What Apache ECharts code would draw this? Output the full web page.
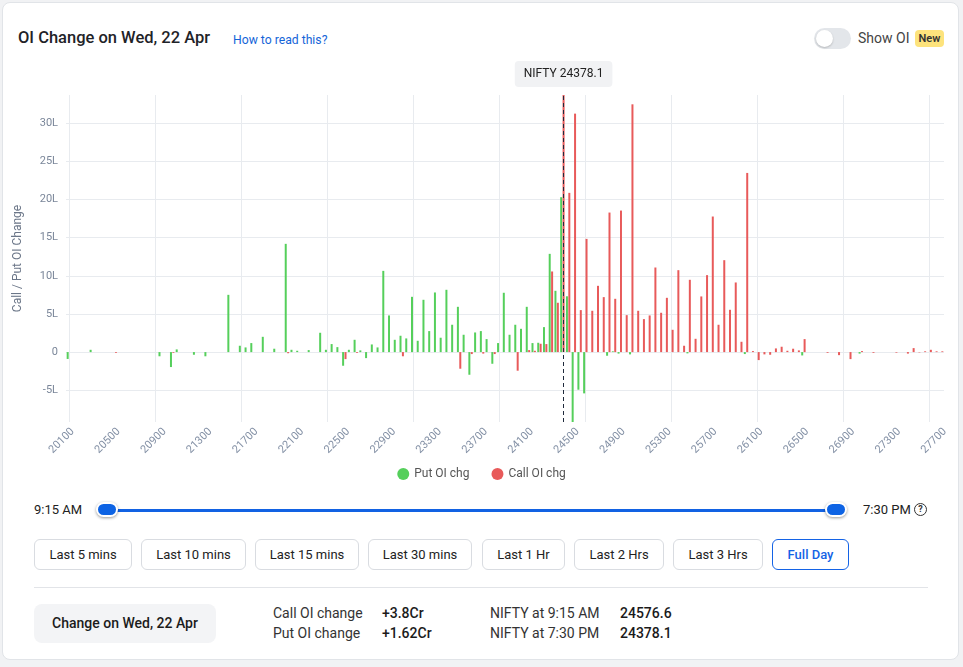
<!DOCTYPE html>
<html>
<head>
<meta charset="utf-8">
<script src="https://cdn.jsdelivr.net/npm/echarts@6/dist/echarts.min.js"></script>
<style>
html,body{margin:0;padding:0;width:963px;height:667px;overflow:hidden;background:#f1f2f4;font-family:Roboto,"Noto Sans",Arial,sans-serif;color:#222;}
.card{position:absolute;left:2px;top:2px;width:955px;height:656px;background:#fff;border:1px solid #e1e4e8;border-radius:8px;}
#chart{position:absolute;left:0;top:0;width:963px;height:490px;}
.abs{position:absolute;white-space:nowrap;}
.btn{position:absolute;top:539px;height:31px;box-sizing:border-box;border:1px solid #d9dce1;border-radius:6px;font-size:13px;line-height:29px;text-align:center;color:#222;background:#fff;}
.btn.on{border-color:#1463e6;color:#1463e6;font-weight:500;}
.knob{position:absolute;top:502px;width:22px;height:15px;box-sizing:border-box;border:2px solid #fff;border-radius:8px;background:#0d63e4;box-shadow:0 1px 3px rgba(0,0,0,.4);}
.stat{position:absolute;font-size:14px;line-height:18px;white-space:nowrap;color:#333;}
.val{font-weight:500;color:#1b1b1b;}
</style>
</head>
<body>
<div class="card"></div>

<div class="abs" style="left:18px;top:28px;font-size:16.5px;line-height:20px;font-weight:500;color:#1f2328;">OI Change on Wed, 22 Apr</div>
<div class="abs" style="left:233px;top:32px;font-size:12.2px;line-height:16px;color:#1565d8;">How to read this?</div>
<div class="abs" style="left:814px;top:28px;width:37px;height:21px;border-radius:11px;background:#e3e6ea;"></div>
<div class="abs" style="left:816px;top:30px;width:17px;height:17px;border-radius:50%;background:#fff;box-shadow:0 1px 2px rgba(0,0,0,.2);"></div>
<div class="abs" style="left:858px;top:29px;font-size:14px;line-height:18px;color:#444;">Show OI</div>
<div class="abs" style="left:915px;top:30px;width:29px;height:17px;border-radius:4px;background:#fde37c;font-size:11px;line-height:17px;font-weight:600;text-align:center;color:#333;">New</div>

<div id="chart"></div>

<div class="abs" style="left:34px;top:501px;font-size:13px;line-height:18px;color:#222;">9:15 AM</div>
<div class="abs" style="left:107px;top:509px;width:729px;height:3px;background:#1262e3;"></div>
<div class="knob" style="left:96px;"></div>
<div class="knob" style="left:825px;"></div>
<div class="abs" style="left:863px;top:501px;font-size:13px;line-height:18px;color:#222;">7:30 PM</div>
<div class="abs" style="left:914px;top:503px;width:11px;height:11px;border:1.4px solid #333;border-radius:50%;font-size:9px;line-height:11px;text-align:center;font-weight:700;color:#333;">?</div>

<div class="btn" style="left:34px;width:98px;">Last 5 mins</div>
<div class="btn" style="left:141px;width:105px;">Last 10 mins</div>
<div class="btn" style="left:255px;width:104px;">Last 15 mins</div>
<div class="btn" style="left:368px;width:104px;">Last 30 mins</div>
<div class="btn" style="left:482px;width:83px;">Last 1 Hr</div>
<div class="btn" style="left:574px;width:90px;">Last 2 Hrs</div>
<div class="btn" style="left:673px;width:90px;">Last 3 Hrs</div>
<div class="btn on" style="left:772px;width:77px;">Full Day</div>

<div class="abs" style="left:34px;top:587px;width:894px;height:1px;background:#e2e4e8;"></div>

<div class="abs" style="left:34px;top:604px;width:182px;height:39px;border-radius:8px;background:#f3f4f6;font-size:14px;line-height:39px;font-weight:500;text-align:center;color:#1b1b1b;">Change on Wed, 22 Apr</div>
<div class="stat" style="left:273px;top:604px;">Call OI change</div>
<div class="stat val" style="left:382px;top:604px;">+3.8Cr</div>
<div class="stat" style="left:273px;top:624px;">Put OI change</div>
<div class="stat val" style="left:382px;top:624px;">+1.62Cr</div>
<div class="stat" style="left:490px;top:604px;">NIFTY at 9:15 AM</div>
<div class="stat val" style="left:620px;top:604px;">24576.6</div>
<div class="stat" style="left:490px;top:624px;">NIFTY at 7:30 PM</div>
<div class="stat val" style="left:620px;top:624px;">24378.1</div>

<script>
// Strike ladder 20100 .. 27700, step 50 (153 strikes)
const strikeStart = 20100, strikeEnd = 27700, strikeStep = 50;
const strikes = [];
for (let s = strikeStart; s <= strikeEnd; s += strikeStep) strikes.push(String(s));

// OI change in lakhs (L), one value per strike
const putChg = [
  -0.9, 0, 0, 0, 0.3, 0, 0, 0, 0, 0,
  0, 0, 0, 0, 0, 0, -0.55, 0, -1.96, 0.35,
  0, 0, -0.35, 0, -0.55, 0, 0, 0, 7.5, 0,
  0.83, 0.61, 1.18, 0, 2.0, 0, 0.44, 0, 14.18, 0.3,
  0.17, 0, 0.26, 0, 2.53, 0.3, 1.05, 0.65, -1.79, 0.3,
  1.61, 0.22, -0.79, 1.0, 0.61, 10.64, 4.8, 1.61, 2.14, 1.79,
  7.24, 1.48, 6.85, 2.75, 7.81, 1.88, 8.16, 3.58, 5.93, 2.27,
  -2.97, 2.57, 2.75, 1.7, -1.53, 1.18, 7.77, 2.27, 3.58, 3.05,
  5.93, 1.18, 1.22, 3.27, 12.87, 8.03, 20.29, 7.31, -9.16, -4.93,
  -5.41, 0, 0, 0, -0.48, 0.1, -0.2, 0, -0.3, 0,
  0, 0, 0, 0, 0, 0, 0, 0, -0.17, 0,
  0, 0, 0, 0, 0, 0, 0, 0, -0.26, 0,
  0, 0, 0, 0, 0, 0, 0, 0, -0.44, 0,
  0, 0, 0, 0, 0, 0, 0, 0, -0.2, 0,
  0, 0, 0, 0, 0, 0, 0, 0, 0, 0,
  0, 0, 0
];
const callChg = [
  0, 0, 0, 0, 0, 0, 0, 0, -0.1, 0,
  0, 0, 0, 0, 0, 0, 0, 0, -0.1, 0,
  0, 0, 0, 0, 0, 0, 0, 0, 0, 0,
  0, 0, 0, 0, 0, 0, 0, 0, -0.15, 0,
  0, 0, 0, 0, 0, 0, 0, 0, -0.92, 0,
  -0.1, 0, 0, 0, 0, 0, 0, 0, -0.55, 0,
  0, 0, 0, 0, 0, 0, 0, 0, -2.18, 0,
  -0.26, 0, -0.2, 0, -0.26, 0, 0, 0, -2.44, 0,
  0.26, 0.17, 1.09, 1.05, 10.56, 6.46, 33.68, 20.86, 31.24, 5.5,
  14.83, 5.41, 8.68, 7.2, 18.28, 6.98, 18.54, 4.84, 32.46, 5.41,
  4.32, 4.8, 11.08, 5.15, 7.11, 2.92, 10.73, 0.83, 9.47, 1.74,
  7.29, 10.08, 17.76, 3.58, 12.04, 5.54, 9.12, 1.35, 23.47, 0.13,
  -1.05, -0.3, -0.35, 0.48, 0.7, 0.17, 0.44, 0.22, 1.7, 0,
  0, 0, -0.1, 0, -0.4, 0, -0.92, 0, 0.13, 0,
  -0.1, 0, 0, 0, -0.08, 0, -0.2, 0.52, -0.05, 0.1,
  0.3, 0.1, 0.1
];

const spot = 24378.1;
const spotLabel = 'NIFTY ' + spot;
const spotStrike = String(Math.round(spot / strikeStep) * strikeStep);
const seriesNames = ['Put OI chg', 'Call OI chg'];
const yTickUnit = 'L';

const chart = echarts.init(document.getElementById('chart'));
const font = 'Roboto, "Noto Sans", sans-serif';
chart.setOption({
  animation: false,
  textStyle: { fontFamily: font },
  grid: { left: 66, right: 19, top: 95, bottom: 68, containLabel: false },
  legend: {
    data: seriesNames, top: 463, left: 'center', icon: 'circle',
    itemWidth: 12, itemHeight: 12, itemGap: 22,
    textStyle: { color: '#555', fontSize: 12, fontFamily: font }
  },
  xAxis: {
    type: 'category', data: strikes, boundaryGap: true,
    axisLine: { show: false }, axisTick: { show: false },
    axisLabel: { interval: 7, rotate: 45, verticalAlign: 'top', color: '#8390a5', fontSize: 11, margin: 4, fontFamily: font },
    splitLine: { show: true, interval: 14, alignWithLabel: true, lineStyle: { color: '#e8ebef', width: 1 } }
  },
  yAxis: {
    type: 'value', min: 'dataMin', max: 'dataMax', splitNumber: 8,
    name: 'Call / Put OI Change', nameLocation: 'middle', nameGap: 42,
    nameTextStyle: { color: '#6b7688', fontSize: 12, fontFamily: font },
    axisLine: { show: false }, axisTick: { show: false },
    axisLabel: {
      color: '#7a8699', fontSize: 11, margin: 8, showMinLabel: false, showMaxLabel: false, fontFamily: font,
      formatter: v => (v === 0 ? '0' : v + yTickUnit)
    },
    splitLine: { show: true, showMinLine: false, showMaxLine: false, lineStyle: { color: '#e8ebef', width: 1 } }
  },
  series: [
    { name: seriesNames[0], type: 'bar', data: putChg, barWidth: 2, barGap: '20%',
      itemStyle: { color: '#55cf5b' } },
    { name: seriesNames[1], type: 'bar', data: callChg, barWidth: 2, barGap: '20%',
      itemStyle: { color: '#e85a5a' },
      markLine: {
        silent: true, symbol: 'none',
        lineStyle: { type: [4, 3], color: '#1f2a3c', width: 1 },
        label: {
          show: true, position: 'end', distance: 8, formatter: spotLabel,
          backgroundColor: '#f1f2f4', padding: [7, 9], borderRadius: 4,
          color: '#222', fontSize: 12, fontFamily: font
        },
        data: [{ xAxis: spotStrike }]
      } }
  ]
});
</script>
</body>
</html>
